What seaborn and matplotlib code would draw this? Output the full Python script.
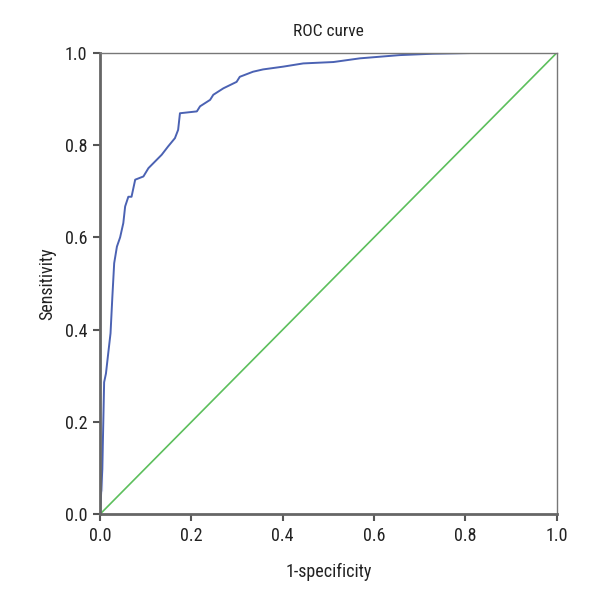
import matplotlib
matplotlib.use("Agg")
import matplotlib.pyplot as plt
from matplotlib import font_manager
import seaborn as sns
import pandas as pd

fpr = [0.0, 0.002, 0.005, 0.005, 0.009, 0.013, 0.018, 0.023, 0.027, 0.031, 0.037, 0.044,
       0.051, 0.055, 0.062, 0.069, 0.077, 0.095, 0.106, 0.120, 0.135, 0.149, 0.164, 0.171,
       0.175, 0.212, 0.219, 0.241, 0.248, 0.270, 0.299, 0.306, 0.335, 0.357, 0.401, 0.445,
       0.511, 0.569, 0.656, 0.729, 0.838, 1.0]
tpr = [0.0, 0.037, 0.05, 0.145, 0.286, 0.305, 0.349, 0.392, 0.471, 0.544, 0.58, 0.60,
       0.631, 0.667, 0.688, 0.688, 0.725, 0.732, 0.75, 0.764, 0.779, 0.797, 0.815, 0.833,
       0.869, 0.873, 0.884, 0.898, 0.909, 0.923, 0.937, 0.948, 0.959, 0.964, 0.970, 0.977,
       0.980, 0.988, 0.995, 0.998, 1.0, 1.0]
ref_x = [0.0, 1.0]
ref_y = [0.0, 1.0]

sns.set_style("white")

# pick a condensed font if one is installed
cond = [f for f in font_manager.fontManager.ttflist
        if f.stretch in ("condensed", "semi-condensed", "extra-condensed") or
        "Narrow" in f.name or "Condensed" in f.name]
family = None
for pref in ["Liberation Sans Narrow", "Roboto Condensed", "Open Sans Condensed", "DejaVu Sans"]:
    for f in cond:
        if f.name == pref:
            family = pref
            break
    if family:
        break
if family is None:
    family = "DejaVu Sans"
plt.rcParams['font.family'] = [family, 'DejaVu Sans']
plt.rcParams['font.stretch'] = 'condensed'

fig = plt.figure(figsize=(6, 6), dpi=100)
ax = fig.add_axes([0.1667, 0.143, 0.7613, 0.769])

roc = pd.DataFrame({"x": fpr, "y": tpr})
ref = pd.DataFrame({"x": ref_x, "y": ref_y})
sns.lineplot(data=ref, x="x", y="y", ax=ax, color="#5cbf5c", linewidth=1.2, sort=False)
sns.lineplot(data=roc, x="x", y="y", ax=ax, color="#4b62b3", linewidth=1.4, sort=False)

ax.set_xlim(0, 1)
ax.set_ylim(0, 1)
ticks = [0.0, 0.2, 0.4, 0.6, 0.8, 1.0]
ax.set_xticks(ticks)
ax.set_yticks(ticks)
ax.set_xticklabels([f"{t:.1f}" for t in ticks], fontsize=13, color="#222222")
ax.set_yticklabels([f"{t:.1f}" for t in ticks], fontsize=13, color="#222222")
ax.tick_params(axis="both", direction="out", length=5, width=1.5, color="#555555",
               bottom=True, left=True, pad=4)
ax.set_xlabel("1-specificity", fontsize=13, labelpad=13, color="#222222")
ax.set_ylabel("Sensitivity", fontsize=13, labelpad=6, color="#222222")
ax.set_title("ROC curve", fontsize=12.5, pad=12, color="#222222")

for s in ["left", "bottom"]:
    ax.spines[s].set_color("#666666")
    ax.spines[s].set_linewidth(2)
for s in ["top", "right"]:
    ax.spines[s].set_color("#777777")
    ax.spines[s].set_linewidth(1)

fig.savefig("out.png", dpi=100)
